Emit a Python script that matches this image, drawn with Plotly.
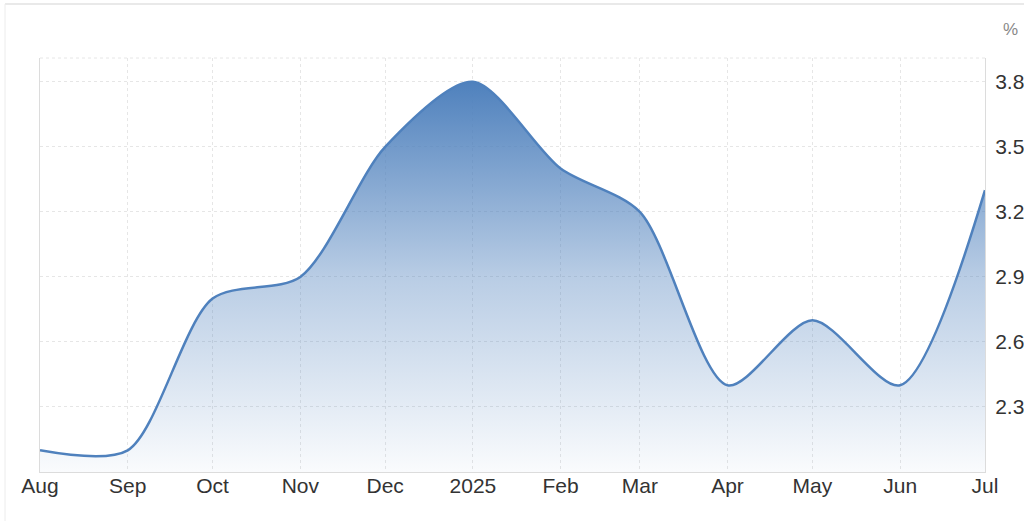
import plotly.graph_objects as go

dates = ['2024-08-01', '2024-09-01', '2024-10-01', '2024-11-01', '2024-12-01', '2025-01-01',
         '2025-02-01', '2025-03-01', '2025-04-01', '2025-05-01', '2025-06-01', '2025-07-01']
values = [2.1, 2.1, 2.8, 2.9, 3.5, 3.8, 3.4, 3.2, 2.4, 2.7, 2.4, 3.3]
tick_labels = ['Aug', 'Sep', 'Oct', 'Nov', 'Dec', '2025', 'Feb', 'Mar', 'Apr', 'May', 'Jun', 'Jul']
y_ticks = [2.3, 2.6, 2.9, 3.2, 3.5, 3.8]

LINE = '#4f81bd'
GRID = '#e6e6e6'
AXIS = '#dcdcdc'
TEXT = '#333333'

fig = go.Figure()
fig.add_trace(go.Scatter(
    x=dates, y=values, mode='lines',
    line=dict(color=LINE, width=2.5, shape='spline', smoothing=0.8),
    fill='tozeroy',
    fillgradient=dict(type='vertical', start=2.0, stop=3.8,
                      colorscale=[[0, 'rgba(79,129,189,0.03)'], [0.5, 'rgba(79,129,189,0.40)'], [1, 'rgba(79,129,189,1)']]),
    hoverinfo='skip', showlegend=False,
))

fig.update_layout(
    width=1024, height=521,
    margin=dict(l=40, r=39, t=58, b=49),
    paper_bgcolor='white', plot_bgcolor='white',
    font=dict(family='Liberation Sans, Arial, sans-serif', size=21, color=TEXT),
    xaxis=dict(
        type='date', range=[dates[0], dates[-1]],
        tickvals=dates, ticktext=tick_labels,
        showgrid=True, gridcolor=GRID, griddash='dot', gridwidth=1,
        showline=True, linecolor=AXIS, linewidth=1,
        ticks='', zeroline=False, fixedrange=True, automargin=False,
        ticklabelstandoff=-5,
        tickfont=dict(size=21, color=TEXT),
    ),
    yaxis=dict(
        side='right', range=[2.0, 3.91],
        tickvals=y_ticks, ticktext=[f'{v:.1f}' for v in y_ticks],
        showgrid=True, gridcolor=GRID, griddash='dot', gridwidth=1,
        showline=True, linecolor=AXIS, linewidth=1, mirror=True,
        ticks='', zeroline=False, fixedrange=True, automargin=False,
        ticklabelstandoff=5,
        tickfont=dict(size=21, color=TEXT),
    ),
    shapes=[
        dict(type='line', xref='paper', yref='paper', x0=0, x1=1, y0=1, y1=1,
             line=dict(color=GRID, width=1, dash='dot')),
        dict(type='line', xref='paper', yref='paper', x0=-0.037, x1=1.05, y0=1.1304, y1=1.1304,
             line=dict(color='#e2e2e2', width=1.5)),
        dict(type='line', xref='paper', yref='paper', x0=-0.037, x1=-0.037, y0=-0.2, y1=1.1304,
             line=dict(color='#ececec', width=1)),
    ],
    annotations=[
        dict(text='%', xref='paper', yref='paper', x=1.0275, y=1.07, showarrow=False,
             xanchor='center', yanchor='middle', font=dict(size=17, color='#888888')),
    ],
)

fig.write_html('out.html', config={'displayModeBar': False, 'staticPlot': True},
               post_script="document.body.style.margin='0';document.body.style.overflow='hidden';")
